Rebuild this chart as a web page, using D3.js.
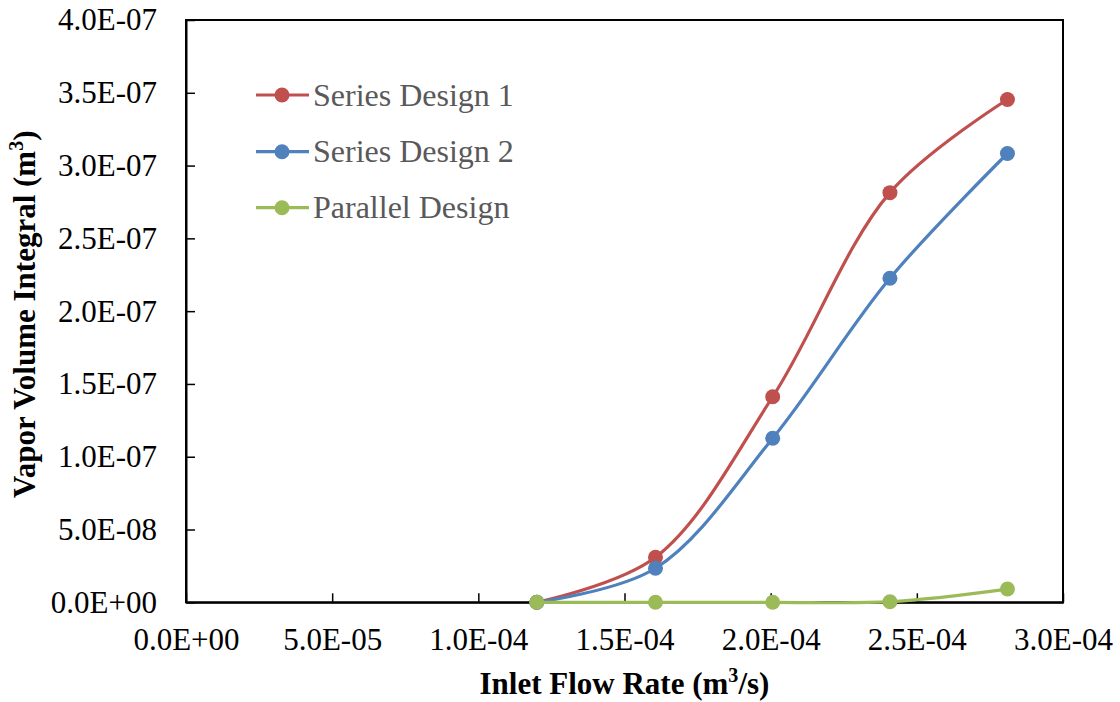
<!DOCTYPE html>
<html>
<head>
<meta charset="utf-8">
<script src="https://cdn.jsdelivr.net/npm/d3@7/dist/d3.min.js"></script>
<style>
  html, body { margin: 0; padding: 0; background: #fff; }
  svg { display: block; }
  text { font-family: "Liberation Serif", "Times New Roman", serif; }
</style>
</head>
<body>
<svg id="chart" width="1120" height="702"></svg>
<script>
// Inlet flow rate (m^3/s) at each simulated operating point
const flowRate = [1.2e-4, 1.606e-4, 2.007e-4, 2.408e-4, 2.81e-4];

// Vapor volume integral (m^3) for each design
const seriesDesign1 = [0, 3.09e-8, 1.412e-7, 2.814e-7, 3.454e-7];
const seriesDesign2 = [0, 2.34e-8, 1.127e-7, 2.226e-7, 3.083e-7];
const parallelDesign = [0, 0, 0, 4e-10, 9.1e-9];

const seriesNames = ["Series Design 1", "Series Design 2", "Parallel Design"];
const seriesColors = ["#C0504D", "#4F81BD", "#9BBB59"];

// Axis ticks
const xTicks = [0, 5e-5, 1e-4, 1.5e-4, 2e-4, 2.5e-4, 3e-4];
const xTickLabels = ["0.0E+00", "5.0E-05", "1.0E-04", "1.5E-04", "2.0E-04", "2.5E-04", "3.0E-04"];
const yTicks = [0, 5e-8, 1e-7, 1.5e-7, 2e-7, 2.5e-7, 3e-7, 3.5e-7, 4e-7];
const yTickLabels = ["0.0E+00", "5.0E-08", "1.0E-07", "1.5E-07", "2.0E-07", "2.5E-07", "3.0E-07", "3.5E-07", "4.0E-07"];

const svg = d3.select("#chart");
const plot = { left: 186, top: 20, right: 1063, bottom: 602.3 };

const x = d3.scaleLinear().domain([0, 3e-4]).range([plot.left, plot.right]);
const y = d3.scaleLinear().domain([0, 4e-7]).range([plot.bottom, plot.top]);

const fontSize = 31;

// Plot frame
svg.append("rect")
  .attr("x", plot.left).attr("y", plot.top)
  .attr("width", plot.right - plot.left).attr("height", plot.bottom - plot.top)
  .attr("fill", "none").attr("stroke", "#000").attr("stroke-width", 2);

// X axis (ticks point into the plot)
const xAxis = d3.axisBottom(x)
  .tickValues(xTicks)
  .tickFormat((d, i) => xTickLabels[i])
  .tickSizeInner(-9).tickSizeOuter(0);
const gx = svg.append("g").attr("transform", `translate(0,${plot.bottom})`).call(xAxis);
gx.select(".domain").attr("stroke", "#000").attr("stroke-width", 2);
gx.selectAll(".tick line").attr("stroke", "#000").attr("stroke-width", 1.5);
gx.selectAll(".tick text")
  .attr("font-family", "Liberation Serif, Times New Roman, serif")
  .attr("font-size", fontSize).attr("fill", "#000")
  .attr("dy", null).attr("y", 48);

// Y axis (ticks point into the plot)
const yAxis = d3.axisLeft(y)
  .tickValues(yTicks)
  .tickFormat((d, i) => yTickLabels[i])
  .tickSizeInner(-9).tickSizeOuter(0).tickPadding(29);
const gy = svg.append("g").attr("transform", `translate(${plot.left},0)`).call(yAxis);
gy.select(".domain").attr("stroke", "#000").attr("stroke-width", 2);
gy.selectAll(".tick line").attr("stroke", "#000").attr("stroke-width", 1.5);
gy.selectAll(".tick text")
  .attr("font-family", "Liberation Serif, Times New Roman, serif")
  .attr("font-size", fontSize).attr("fill", "#000");

// Data series
const allSeries = [seriesDesign1, seriesDesign2, parallelDesign];
const line = d3.line()
  .x((d, i) => x(flowRate[i]))
  .y(d => y(d))
  .curve(d3.curveCatmullRom.alpha(0.5));

allSeries.forEach((vals, k) => {
  svg.append("path")
    .datum(vals)
    .attr("d", line)
    .attr("fill", "none")
    .attr("stroke", seriesColors[k])
    .attr("stroke-width", 3.2)
    .attr("stroke-linejoin", "round");
  svg.append("g").selectAll("circle")
    .data(vals)
    .join("circle")
    .attr("cx", (d, i) => x(flowRate[i]))
    .attr("cy", d => y(d))
    .attr("r", 7.5)
    .attr("fill", seriesColors[k]);
});

// Legend
const legend = svg.append("g");
const legendRows = [95, 151.7, 207.7];
seriesNames.forEach((name, k) => {
  const g = legend.append("g").attr("transform", `translate(0,${legendRows[k]})`);
  g.append("line").attr("x1", 256).attr("x2", 309).attr("y1", 0).attr("y2", 0)
    .attr("stroke", seriesColors[k]).attr("stroke-width", 3.2);
  g.append("circle").attr("cx", 282).attr("cy", 0).attr("r", 7.5).attr("fill", seriesColors[k]);
  g.append("text").attr("x", 313).attr("y", 10.5)
    .attr("font-size", 32).attr("fill", "#595959").text(name);
});

// Axis titles
const xTitle = svg.append("text")
  .attr("x", (plot.left + plot.right) / 2).attr("y", 694)
  .attr("text-anchor", "middle")
  .attr("font-size", fontSize).attr("font-weight", "bold").attr("fill", "#000");
xTitle.append("tspan").text("Inlet Flow Rate (m");
xTitle.append("tspan").attr("font-size", fontSize * 0.65).attr("dy", -12).text("3");
xTitle.append("tspan").attr("dy", 12).text("/s)");

const yTitle = svg.append("text")
  .attr("transform", `translate(35,${(plot.top + plot.bottom) / 2 + 3}) rotate(-90)`)
  .attr("text-anchor", "middle")
  .attr("font-size", fontSize).attr("font-weight", "bold").attr("fill", "#000");
yTitle.append("tspan").text("Vapor Volume Integral (m");
yTitle.append("tspan").attr("font-size", fontSize * 0.65).attr("dy", -12).text("3");
yTitle.append("tspan").attr("dy", 12).text(")");
</script>
</body>
</html>
